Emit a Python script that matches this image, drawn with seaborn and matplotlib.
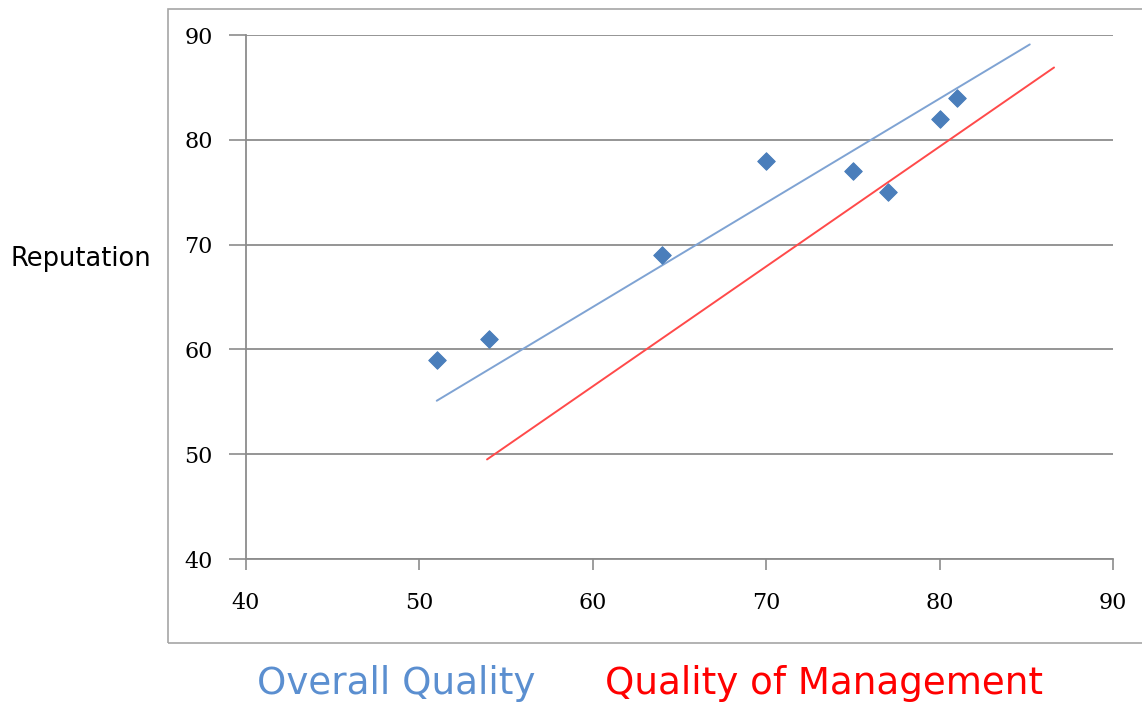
import matplotlib.pyplot as plt
import pandas as pd
import seaborn as sns
from matplotlib.patches import Rectangle

# observed points
overall_quality = [51, 54, 64, 70, 75, 77, 80, 81]
reputation = [59, 61, 69, 78, 77, 75, 82, 84]

# fitted lines (end points)
overall_line_x = [51.0, 85.2]
overall_line_y = [55.1, 89.1]
management_line_x = [53.9, 86.6]
management_line_y = [49.5, 86.9]

ticks = [40, 50, 60, 70, 80, 90]

MARKER_BLUE = "#4A7EBB"
LINE_BLUE = "#7FA3D3"
LINE_RED = "#FF4A4A"
GRID_GRAY = "#8C8C8C"


def main() -> None:
    sns.set_style("white")
    points = pd.DataFrame({"Quality": overall_quality, "Reputation": reputation})

    fig = plt.figure(figsize=(11.42, 7.07), dpi=100)
    fig.patches.append(Rectangle((168 / 1142, 1 - 643 / 707), 1.0, (643 - 9) / 707,
                                 transform=fig.transFigure, fill=False,
                                 edgecolor="#A6A6A6", linewidth=1.2))
    ax = fig.add_axes([246 / 1142, 1 - 559 / 707, (1113 - 246) / 1142, (559 - 35) / 707])

    sns.lineplot(x=overall_line_x, y=overall_line_y, color=LINE_BLUE, linewidth=1.4, ax=ax)
    sns.lineplot(x=management_line_x, y=management_line_y, color=LINE_RED, linewidth=1.4, ax=ax)
    sns.scatterplot(data=points, x="Quality", y="Reputation", marker="D", s=80,
                    color=MARKER_BLUE, edgecolor=MARKER_BLUE, zorder=5, ax=ax)

    ax.set_xlim(40, 90)
    ax.set_ylim(40, 90)
    ax.set_xticks(ticks)
    ax.set_yticks(ticks)
    ax.set_xticklabels([str(t) for t in ticks], family="DejaVu Serif", fontsize=16, color="black")
    ax.set_yticklabels([str(t) for t in ticks], family="DejaVu Serif", fontsize=16, color="black")
    ax.tick_params(axis="x", direction="out", length=8, width=1.2, color=GRID_GRAY, pad=16, bottom=True)
    ax.tick_params(axis="y", direction="out", length=12, width=1.2, color=GRID_GRAY, pad=12, left=True)

    ax.grid(axis="y", color=GRID_GRAY, linewidth=1.3)
    ax.grid(axis="x", visible=False)
    for side in ("top", "right"):
        ax.spines[side].set_visible(False)
    for side in ("left", "bottom"):
        ax.spines[side].set_color(GRID_GRAY)
        ax.spines[side].set_linewidth(1.3)
    ax.set_xlabel("")
    ax.set_ylabel("")

    fig.text(81 / 1142, 1 - 259 / 707, "Reputation", fontsize=18.5, color="black",
             ha="center", va="center")
    fig.text(396 / 1142, 1 - 683 / 707, "Overall Quality", fontsize=26.8, color="#5B8FD0",
             ha="center", va="center")
    fig.text(824 / 1142, 1 - 683 / 707, "Quality of Management", fontsize=26.8, color="#FF0000",
             ha="center", va="center")

    fig.savefig("out.png", dpi=100)


if __name__ == "__main__":
    main()
